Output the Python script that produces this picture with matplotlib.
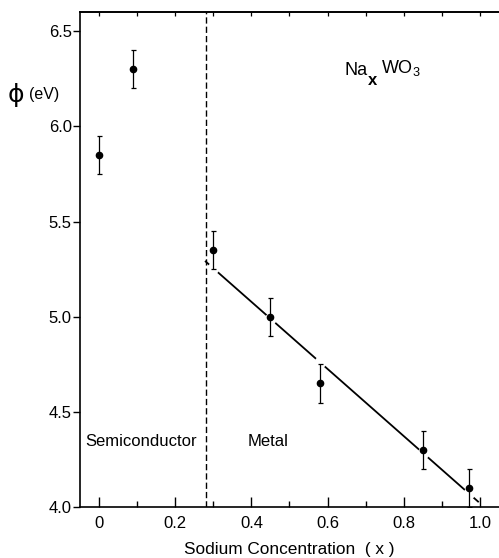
import matplotlib
matplotlib.use("Agg")
import matplotlib.pyplot as plt
import numpy as np

# ---- data ----
conc = [0.0, 0.088, 0.30, 0.45, 0.58, 0.85, 0.97]
phi = [5.85, 6.30, 5.35, 5.00, 4.65, 4.30, 4.10]
phi_err = [0.10, 0.10, 0.10, 0.10, 0.10, 0.10, 0.10]
fit_x = [0.28, 0.995]
fit_y = [5.29, 4.03]
boundary_x = 0.28
xticks = [0, 0.2, 0.4, 0.6, 0.8, 1.0]
xtick_labels = ["0", "0.2", "0.4", "0.6", "0.8", "1.0"]
yticks = [4.0, 4.5, 5.0, 5.5, 6.0, 6.5]
ytick_labels = ["4.0", "4.5", "5.0", "5.5", "6.0", "6.5"]

plt.rcParams['font.family'] = ['Liberation Sans', 'DejaVu Sans']
plt.rcParams['mathtext.fontset'] = 'custom'
plt.rcParams['mathtext.rm'] = 'Liberation Sans'
plt.rcParams['mathtext.bf'] = 'Liberation Sans:bold'

fig = plt.figure(figsize=(4.99, 5.58), dpi=100)
ax = fig.add_axes([0.1603, 0.0909, 0.8397, 0.8876])
ax.set_xlim(-0.05, 1.05)
ax.set_ylim(4.0, 6.6)

# fit line with gaps at data points
ax.plot(fit_x, fit_y, color='black', lw=1.3, zorder=2)
fit_at = np.interp(conc[2:], fit_x, fit_y)
ax.plot(conc[2:], fit_at, linestyle='none', marker='o', ms=8.5,
        mfc='white', mec='none', zorder=3)

# boundary
ax.axvline(boundary_x, color='black', lw=1.0, dashes=(4.5, 2.2), zorder=2)

# data
ax.errorbar(conc, phi, yerr=phi_err, fmt='o', color='black', ms=4.5,
            elinewidth=0.9, capsize=1.8, capthick=0.9, zorder=4)

# axes styling
ax.spines['right'].set_visible(False)
for s in ['left', 'bottom', 'top']:
    ax.spines[s].set_linewidth(1.2)
ax.set_xticks(xticks)
ax.set_xticklabels(xtick_labels)
ax.set_xticks(np.arange(0.1, 1.0, 0.2), minor=True)
ax.tick_params(axis='x', which='major', direction='in', length=7, width=1.0,
               labelsize=12, pad=6, top=False)
ax.tick_params(axis='x', which='minor', direction='in', length=4, width=1.0,
               top=False)
ax.set_yticks(yticks)
ax.set_yticklabels(ytick_labels)
ax.tick_params(axis='y', which='major', direction='out', length=5, width=1.0,
               labelsize=12, pad=1, right=False)

sec = ax.secondary_xaxis('top')
sec.set_xticks(np.arange(0.0, 1.05, 0.1))
sec.tick_params(direction='in', length=3, width=0.9, labeltop=False)
sec.spines['top'].set_linewidth(1.2)

ax.set_xlabel("Sodium Concentration  ( x )", fontsize=12.4, labelpad=8)

# texts
ax.text(-0.035, 4.345, "Semiconductor", fontsize=12, va='center', ha='left')
ax.text(0.39, 4.345, "Metal", fontsize=12, va='center', ha='left')
ax.text(0.644, 6.27, "Na", fontsize=13, va='baseline', ha='left')
ax.text(0.7176, 6.215, "x", fontsize=12, fontweight='bold', va='baseline', ha='center')
ax.text(0.741, 6.28, r"WO$_3$", fontsize=13, va='baseline', ha='left')

fig.text(0.016, 0.83, "ϕ", fontsize=18, family='DejaVu Sans', va='center', ha='left')
fig.text(0.058, 0.83, "(eV)", fontsize=11.5, va='center', ha='left')

fig.savefig("out.png", dpi=100)
